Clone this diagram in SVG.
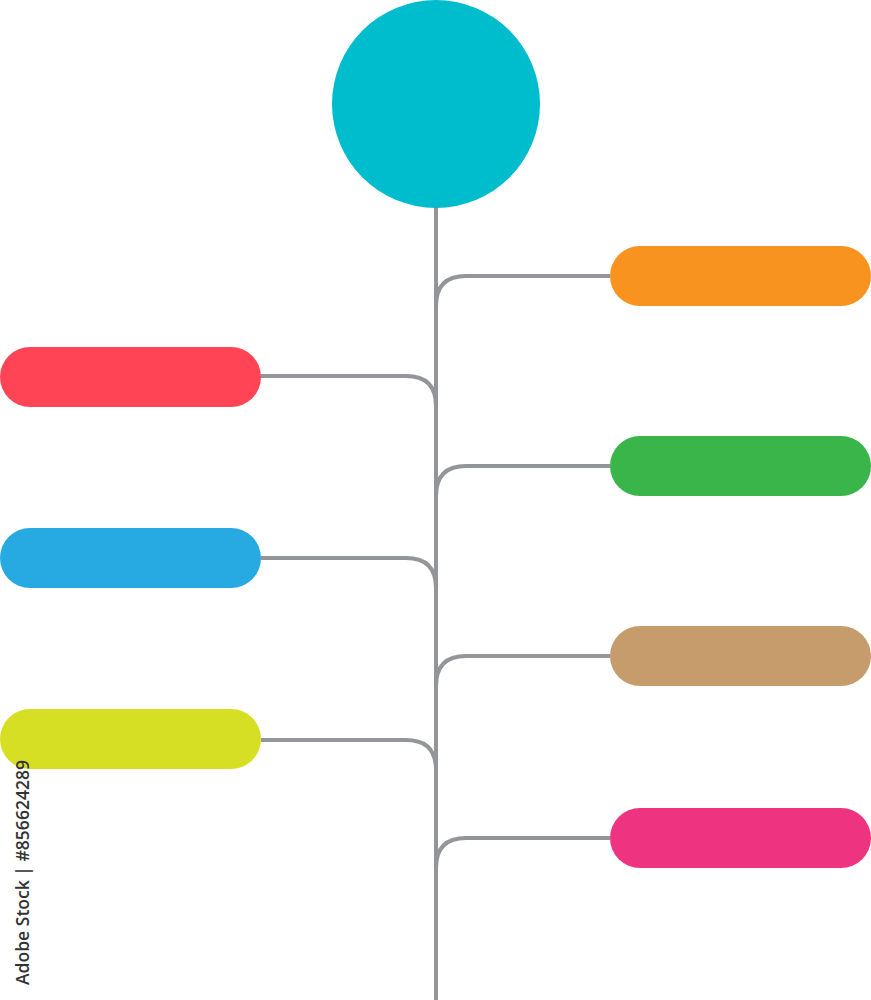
<svg xmlns="http://www.w3.org/2000/svg" width="871" height="1000" viewBox="0 0 871 1000">
<style>
.c{fill:none;stroke:#939598;stroke-width:4}
.wm{font-family:"Open Sans","Liberation Sans",sans-serif;font-size:18px;font-weight:600;fill:#333333}
</style>
<rect width="871" height="1000" fill="#ffffff"/>
<g id="connectors">
<path class="c" d="M436 206 V1000"/>
<path class="c" d="M610 276 H466 Q436 276 436 306"/>
<path class="c" d="M610 466 H466 Q436 466 436 496"/>
<path class="c" d="M610 656 H466 Q436 656 436 686"/>
<path class="c" d="M610 838 H466 Q436 838 436 868"/>
<path class="c" d="M261 376 H406 Q436 376 436 406"/>
<path class="c" d="M261 558 H406 Q436 558 436 588"/>
<path class="c" d="M261 740 H406 Q436 740 436 770"/>
</g>
<g id="hub"><circle cx="436" cy="104" r="104" fill="#00BDCE"/></g>
<g id="n-orange"><rect x="610" y="246" width="261" height="60" rx="30" fill="#F7931E"/></g>
<g id="n-green"><rect x="610" y="436" width="261" height="60" rx="30" fill="#39B54A"/></g>
<g id="n-brown"><rect x="610" y="626" width="261" height="60" rx="30" fill="#C69C6D"/></g>
<g id="n-pink"><rect x="610" y="808" width="261" height="60" rx="30" fill="#EE3380"/></g>
<g id="n-red"><rect x="0" y="347" width="261" height="60" rx="30" fill="#FF4555"/></g>
<g id="n-blue"><rect x="0" y="528" width="261" height="60" rx="30" fill="#27AAE1"/></g>
<g id="n-yellow"><rect x="0" y="709" width="261" height="60" rx="30" fill="#D6DF23"/></g>
<text class="wm" transform="translate(29 985) rotate(-90)" textLength="225" lengthAdjust="spacingAndGlyphs">Adobe Stock | #856624289</text>
</svg>
